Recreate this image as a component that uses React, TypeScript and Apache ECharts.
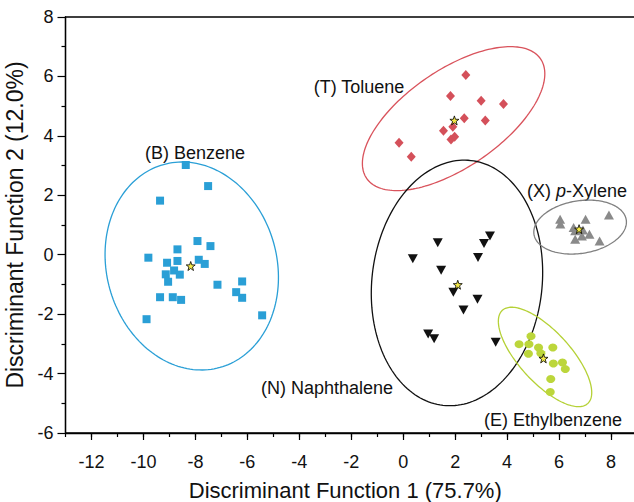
import React, { useEffect, useRef } from "react";
import * as echarts from "echarts";

// ---------- data ----------
const benzene: number[][] = [
  [-8.37, 3.02], [-7.51, 2.31], [-9.36, 1.82], [-7.92, 0.46], [-7.42, 0.29],
  [-8.69, 0.18], [-9.81, -0.1], [-8.69, -0.21], [-9.09, -0.27], [-7.87, -0.17],
  [-7.64, -0.31], [-8.82, -0.53], [-9.14, -0.66], [-8.6, -0.67], [-9.05, -0.91],
  [-7.15, -1.01], [-6.2, -0.9], [-6.43, -1.26], [-6.2, -1.45], [-9.36, -1.43],
  [-8.87, -1.43], [-8.55, -1.52], [-9.88, -2.17], [-5.43, -2.04],
];
const toluene: number[][] = [
  [2.41, 6.05], [1.82, 5.34], [3.0, 5.18], [3.86, 5.07], [2.35, 4.59],
  [3.16, 4.52], [1.55, 4.17], [1.91, 4.31], [1.84, 3.88], [1.98, 3.97],
  [-0.16, 3.77], [0.31, 3.3],
];
const naphthalene: number[][] = [
  [1.33, 0.4], [3.34, 0.63], [3.11, 0.38], [0.37, -0.14], [2.88, -0.09],
  [1.46, -0.52], [1.93, -1.26], [2.86, -1.5], [2.32, -1.86], [0.96, -2.67],
  [1.19, -2.83], [3.56, -2.95],
];
const xylene: number[][] = [
  [6.04, 1.19], [6.05, 1.03], [6.56, 0.92], [6.62, 0.81], [6.92, 0.83],
  [7.02, 1.19], [6.88, 0.63], [7.17, 0.69], [6.62, 0.52], [7.56, 0.46],
  [7.92, 1.34],
];
const ethylbenzene: number[][] = [
  [4.92, -2.74], [4.46, -3.01], [4.84, -3.01], [5.21, -3.12], [5.76, -3.12],
  [4.82, -3.33], [5.3, -3.32], [5.78, -3.66], [6.13, -3.63], [6.24, -3.85],
  [5.68, -4.18], [5.66, -4.62],
];
const centroids: number[][] = [
  [-8.18, -0.38], [1.97, 4.52], [2.1, -1.01], [6.77, 0.86], [5.4, -3.49],
];
// ellipse centres (data units)
const ellipseCentres: number[][] = [
  [-8.14, -0.38], [1.94, 4.58], [2.07, -0.95], [6.81, 0.93], [5.46, -3.44],
];
const xTickValues = [-12, -10, -8, -6, -4, -2, 0, 2, 4, 6, 8];
const groupLabels = ["(B) Benzene", "(T) Toluene", "(N) Naphthalene", "(X) {i|p}-Xylene", "(E) Ethylbenzene"];

// ---------- styles ----------
const FONT = "Liberation Sans, Arial, sans-serif";
const BLUE = "#2a9fd6";
const RED = "#d4505a";
const BLACK = "#111111";
const GREY = "#8a8a8a";
const GREEN = "#bcd63b";
// ellipse shapes (pixel semi-axes, visual angle in degrees)
const ellipseShapes = [
  { a: 105.3, b: 85.1, ang: 105.5, color: BLUE },
  { a: 105.5, b: 48.7, ang: 34.5, color: "#d9535c" },
  { a: 123.2, b: 85.1, ang: 83.5, color: BLACK },
  { a: 46.7, b: 26.3, ang: 9, color: "#808080" },
  { a: 63.2, b: 25.6, ang: -47.5, color: "#b5d136" },
];
const labelPos = [
  [195, 153], [359, 87], [327, 388], [577, 191], [553, 420],
];
const STAR =
  "path://M0,-10 L2.35,-3.24 L9.51,-3.09 L3.8,1.24 L5.88,8.09 L0,4 L-5.88,8.09 L-3.8,1.24 L-9.51,-3.09 L-2.35,-3.24 Z";

export default function App() {
  const ref = useRef<HTMLDivElement>(null);
  useEffect(() => {
    if (!ref.current) return;
    const chart = echarts.init(ref.current, undefined, { renderer: "svg" });
    const axisLine = { onZero: false, lineStyle: { color: "#000", width: 1.3 } };
    const ellipseSeries = ellipseShapes.map((s, i) => ({
      type: "custom",
      coordinateSystem: "cartesian2d",
      xAxisIndex: 0,
      yAxisIndex: 0,
      silent: true,
      z: 1,
      data: [ellipseCentres[i]],
      renderItem: (params: any, api: any) => {
        const c = api.coord([api.value(0), api.value(1)]);
        const th = (s.ang * Math.PI) / 180;
        const pts: number[][] = [];
        for (let k = 0; k <= 180; k++) {
          const t = (k / 180) * Math.PI * 2;
          const u = s.a * Math.cos(t);
          const v = s.b * Math.sin(t);
          pts.push([c[0] + u * Math.cos(th) - v * Math.sin(th), c[1] - (u * Math.sin(th) + v * Math.cos(th))]);
        }
        return {
          type: "polyline",
          shape: { points: pts },
          style: { fill: "none", stroke: s.color, lineWidth: 1.3 },
        };
      },
    }));
    const scatter = (data: number[][], symbol: string, size: any, color: string, rotate = 0) => ({
      type: "scatter",
      data,
      symbol,
      symbolSize: size,
      symbolRotate: rotate,
      itemStyle: { color, opacity: 1 },
      z: 3,
      silent: true,
    });
    chart.setOption({
      animation: false,
      grid: {
        left: 65.5,
        right: -3,
        top: 17,
        bottom: 69,
        show: true,
        borderColor: "#000",
        borderWidth: 1.3,
        outerBoundsMode: "none",
        containLabel: false,
      },
      xAxis: [
        {
          type: "value",
          min: -13,
          max: 9,
          position: "bottom",
          axisLine,
          axisTick: { customValues: xTickValues, length: 7, lineStyle: { color: "#000", width: 1.2 } },
          axisLabel: { customValues: xTickValues, fontSize: 18, margin: 20, color: "#111", fontFamily: FONT },
          splitLine: { show: false },
          name: "Discriminant Function 1 (75.7%)",
          nameLocation: "middle",
          nameGap: 46,
          nameTextStyle: { fontSize: 22, color: "#111", fontFamily: FONT, padding: [0, 12, 0, 0] },
        },
        {
          type: "value",
          min: -13,
          max: 9,
          interval: 1,
          position: "bottom",
          axisLine: { show: false, onZero: false },
          axisTick: { length: 4, lineStyle: { color: "#000", width: 1.2 } },
          axisLabel: { show: false },
          splitLine: { show: false },
        },
      ],
      yAxis: {
        type: "value",
        min: -6,
        max: 8,
        interval: 2,
        axisLine,
        axisTick: { length: 8, lineStyle: { color: "#000", width: 1.2 } },
        minorTick: { show: true, splitNumber: 2, length: 4, lineStyle: { color: "#000", width: 1.2 } },
        axisLabel: { fontSize: 18, margin: 12, color: "#111", fontFamily: FONT },
        splitLine: { show: false },
        name: "Discriminant Function 2 (12.0%)",
        nameLocation: "middle",
        nameGap: 29,
        nameTextStyle: { fontSize: 23, color: "#111", fontFamily: FONT },
      },
      series: [
        ...ellipseSeries,
        scatter(benzene, "rect", 8, BLUE),
        scatter(toluene, "diamond", [9, 10], RED),
        scatter(naphthalene, "triangle", [10, 9], BLACK, 180),
        scatter(xylene, "triangle", [10, 9], GREY),
        scatter(ethylbenzene, "circle", [9, 8], GREEN),
        {
          type: "scatter",
          data: centroids,
          symbol: STAR,
          symbolSize: 9,
          itemStyle: { color: "#f0e31a", borderColor: "#000", borderWidth: 1 },
          z: 5,
          silent: true,
        },
      ],
      graphic: groupLabels.map((t, i) => ({
        type: "text",
        x: labelPos[i][0],
        y: labelPos[i][1],
        silent: true,
        style: {
          text: t,
          fontSize: 18,
          fontFamily: FONT,
          fill: "#111",
          align: "center",
          verticalAlign: "middle",
          rich: { i: { fontStyle: "italic", fontSize: 18, fontFamily: FONT, fill: "#111" } },
        },
      })),
    });
    return () => chart.dispose();
  }, []);
  return (
    <div
      ref={ref}
      style={{ position: "absolute", left: 0, top: 0, width: 634, height: 502, background: "#fff" }}
    />
  );
}
